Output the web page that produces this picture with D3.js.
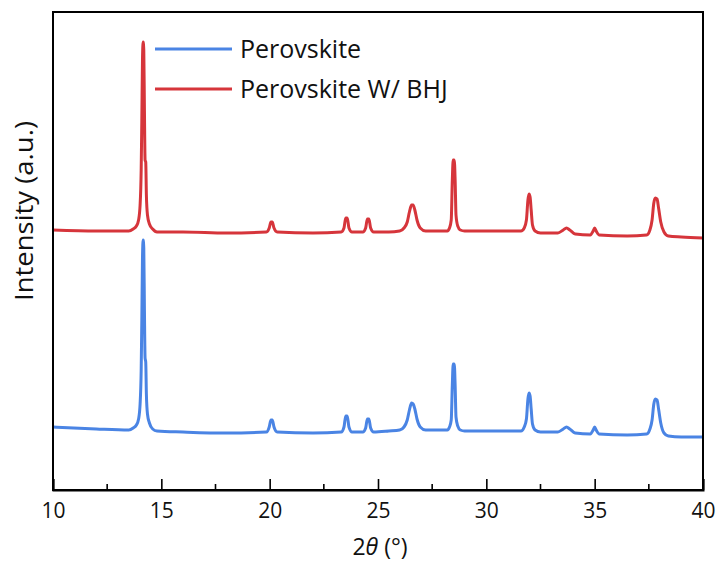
<!DOCTYPE html>
<html>
<head>
<meta charset="utf-8">
<script src="https://cdn.jsdelivr.net/npm/d3@7"></script>
<style>
  body { margin: 0; background: #fff; }
  #xrd { width: 720px; height: 568px; }
  text { font-family: "Open Sans", "Noto Sans", sans-serif; fill: #111; }
</style>
</head>
<body>
<div id="xrd"></div>
<script>
// 2θ positions shared by both patterns (degrees)
const twoTheta = [10, 12, 13.5, 13.7, 13.85, 13.95, 14.02, 14.07, 14.1, 14.13,
    14.16, 14.19, 14.22, 14.25, 14.28, 14.31, 14.36, 14.45, 14.6, 14.8,
    16, 18, 19.85, 19.98, 20.06, 20.12, 20.2, 20.35, 22, 23.3,
    23.43, 23.51, 23.58, 23.66, 23.8, 24.3, 24.43, 24.51, 24.58, 24.66,
    24.8, 25.5, 26.0, 26.2, 26.35, 26.45, 26.55, 26.62, 26.7, 26.8,
    26.95, 27.2, 28.2, 28.3, 28.38, 28.43, 28.47, 28.52, 28.56, 28.6,
    28.68, 28.8, 29.0, 30, 31.6, 31.75, 31.85, 31.92, 31.97, 32.02,
    32.07, 32.13, 32.25, 32.5, 33.3, 33.55, 33.7, 33.85, 34.1, 34.8,
    34.93, 35.0, 35.07, 35.2, 36.5, 37.4, 37.55, 37.65, 37.73, 37.8,
    37.88, 37.95, 38.05, 38.2, 38.4, 39, 40];

// intensity (a.u.), already offset for stacking
const perovskite = [63, 61, 60, 62, 65, 71, 86, 120, 170, 232,
    250, 242, 180, 132, 128, 96, 76, 67, 61, 59,
    58, 57, 58, 63, 70, 70, 63, 58, 57, 58,
    63, 74, 74, 63, 58, 58, 62, 71, 71, 62,
    58, 59, 60, 63, 70, 80, 87, 86, 81, 71,
    63, 60, 60, 63, 70, 105, 126, 126, 105, 73,
    64, 60, 59, 59, 59, 63, 71, 91, 97, 94,
    81, 66, 60, 58, 58, 61, 63, 61, 57, 56,
    60, 63, 60, 56, 55, 56, 61, 70, 86, 91,
    90, 81, 67, 57, 54, 53, 53];

const perovskiteBHJ = [260, 259, 259, 261, 264, 270, 285, 320, 370, 430,
    448, 440, 380, 330, 328, 295, 275, 266, 261, 258,
    258, 257, 258, 262, 268, 268, 262, 258, 257, 258,
    262, 272, 272, 262, 258, 258, 262, 271, 271, 262,
    258, 258, 259, 262, 268, 278, 285, 285, 280, 270,
    262, 259, 259, 262, 270, 310, 330, 330, 310, 275,
    264, 260, 259, 259, 259, 262, 270, 290, 296, 293,
    280, 265, 259, 257, 257, 260, 262, 260, 256, 255,
    259, 262, 259, 255, 254, 255, 260, 270, 287, 292,
    291, 282, 268, 258, 254, 253, 252];

const seriesNames = ["Perovskite", "Perovskite W/ BHJ"];
const seriesColors = ["#4a84e4", "#d6353b"];
const majorTicks = [10, 15, 20, 25, 30, 35, 40];
const minorTicks = [12.5, 17.5, 22.5, 27.5, 32.5, 37.5];

(function() {
    const width = 720, height = 568;
    const margin = { top: 12, right: 17, bottom: 78, left: 53 };
    const innerW = width - margin.left - margin.right;
    const innerH = height - margin.top - margin.bottom;

    const svg = d3.select("#xrd")
        .append("svg")
        .attr("width", width)
        .attr("height", height);

    const g = svg.append("g")
        .attr("transform", `translate(${margin.left},${margin.top})`);

    const x = d3.scaleLinear().domain([10, 40]).range([0, innerW]);
    const y = d3.scaleLinear().domain([0, 478]).range([innerH, 0]);

    const line = d3.line()
        .curve(d3.curveMonotoneX)
        .x(d => x(d[0]))
        .y(d => y(d[1]));

    const series = [perovskite, perovskiteBHJ];
    series.forEach((vals, i) => {
        g.append("path")
            .datum(twoTheta.map((t, k) => [t, vals[k]]))
            .attr("fill", "none")
            .attr("stroke", seriesColors[i])
            .attr("stroke-width", 3)
            .attr("stroke-linejoin", "round")
            .attr("d", line);
    });

    // frame
    g.append("rect")
        .attr("width", innerW)
        .attr("height", innerH)
        .attr("fill", "none")
        .attr("stroke", "#000")
        .attr("stroke-width", 2);

    // bottom axis, ticks pointing inward
    const xAxis = g.append("g")
        .attr("transform", `translate(0,${innerH})`)
        .call(d3.axisBottom(x).tickValues(majorTicks).tickSize(-11).tickPadding(13).tickFormat(d3.format("d")));
    xAxis.select(".domain").attr("stroke-width", 2);
    xAxis.selectAll(".tick line").attr("stroke-width", 1.6);
    xAxis.selectAll(".tick text")
        .attr("font-size", 21)
        .style("font-family", "'Open Sans', 'Noto Sans', sans-serif");

    g.append("g")
        .attr("transform", `translate(0,${innerH})`)
        .selectAll("line")
        .data(minorTicks)
        .join("line")
        .attr("x1", d => x(d))
        .attr("x2", d => x(d))
        .attr("y1", 0)
        .attr("y2", -6)
        .attr("stroke", "#000")
        .attr("stroke-width", 1.6);

    // axis titles
    const xt = svg.append("text")
        .attr("x", 380)
        .attr("y", 555)
        .attr("text-anchor", "middle")
        .attr("font-size", 23);
    xt.append("tspan").text("2");
    xt.append("tspan").attr("font-style", "italic").text("θ");
    xt.append("tspan").text(" (°)");

    svg.append("text")
        .attr("transform", "translate(33,211) rotate(-90)")
        .attr("text-anchor", "middle")
        .attr("font-size", 25)
        .attr("textLength", 180)
        .attr("lengthAdjust", "spacingAndGlyphs")
        .text("Intensity (a.u.)");

    // legend
    const legend = svg.append("g").attr("transform", "translate(155,49)");
    seriesNames.forEach((name, i) => {
        const row = legend.append("g").attr("transform", `translate(0,${i * 40})`);
        row.append("line")
            .attr("x1", 0).attr("x2", 77)
            .attr("stroke", seriesColors[i])
            .attr("stroke-width", 3);
        row.append("text")
            .attr("x", 85)
            .attr("dy", "0.35em")
            .attr("font-size", 25)
            .text(name);
    });
})();
</script>
</body>
</html>
